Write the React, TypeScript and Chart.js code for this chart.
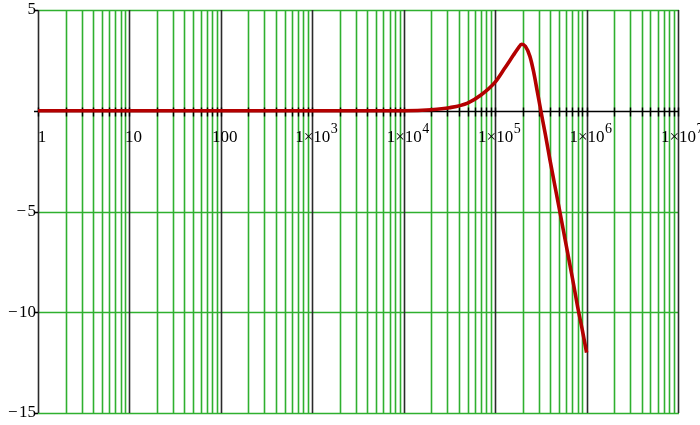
import React, { useEffect, useRef } from "react";
import { Chart, registerables } from "chart.js";

Chart.register(...registerables);

// Frequency (log axis) and gain values
const frequencies = [
  1, 10, 100, 1000, 10000, 20000, 31600, 50000, 70000, 100000, 126000, 158000,
  178000, 195000, 214000, 240000, 263000, 288000, 316000, 355000, 398000,
  500000, 600000, 700000, 800000, 900000, 1000000,
];
const gains = [
  0, 0, 0, 0, 0.0, 0.05, 0.15, 0.38, 0.78, 1.42, 2.08, 2.75, 3.1, 3.3, 3.2,
  2.7, 1.95, 1.0, 0, -1.2, -2.45, -4.8, -6.7, -8.3, -9.75, -10.9, -12.0,
];

// Axis ticks
const xDecades = [1, 10, 100, 1e3, 1e4, 1e5, 1e6, 1e7];
const xMinorMultipliers = [2, 3, 4, 5, 6, 7, 8, 9];
const xTickBase = ["1", "10", "100", "1×10", "1×10", "1×10", "1×10", "1×10"];
const xTickExp = ["", "", "", "3", "4", "5", "6", "7"];
const yTickValues = [5, 0, -5, -10, -15];
const yTickLabels = ["5", "", "\u2212\u200A5", "\u2212\u200A10", "\u2212\u200A15"];

const GREEN = "#2fb02f";
const DARK = "#2a2a2a";
const SERIF = '"Liberation Serif", "DejaVu Serif", serif';

export default function App() {
  const ref = useRef<HTMLCanvasElement | null>(null);

  useEffect(() => {
    if (!ref.current) return;

    const minorValues: number[] = [];
    xDecades.forEach((d, i) => {
      if (i < xDecades.length - 1) xMinorMultipliers.forEach((m) => minorValues.push(m * d));
    });

    const gridPlugin = {
      id: "mathcadGrid",
      beforeDatasetsDraw(chart: any) {
        const { ctx, scales, chartArea } = chart;
        const xs = scales.x;
        const ys = scales.y;
        const top = chartArea.top;
        const bottom = chartArea.bottom;
        const left = chartArea.left;
        const right = chartArea.right;
        const al = (p: number) => Math.round(p) + 0.5;
        const y0 = al(ys.getPixelForValue(0));
        ctx.save();
        ctx.lineWidth = 1.6;
        // minor vertical lines
        ctx.strokeStyle = GREEN;
        ctx.beginPath();
        minorValues.forEach((v) => {
          const px = al(xs.getPixelForValue(v));
          ctx.moveTo(px, top);
          ctx.lineTo(px, bottom);
        });
        // horizontal lines except zero
        yTickValues.forEach((v) => {
          if (v === 0) return;
          const py = al(ys.getPixelForValue(v));
          ctx.moveTo(left, py);
          ctx.lineTo(right + 1, py);
        });
        ctx.stroke();
        // decade vertical lines
        ctx.strokeStyle = DARK;
        ctx.beginPath();
        xDecades.forEach((v) => {
          const px = al(xs.getPixelForValue(v));
          ctx.moveTo(px, top);
          ctx.lineTo(px, bottom);
        });
        ctx.stroke();
        // zero line and tick marks
        ctx.strokeStyle = "#000";
        ctx.lineWidth = 1.4;
        ctx.beginPath();
        ctx.moveTo(left, y0);
        ctx.lineTo(right + 1, y0);
        [...xDecades, ...minorValues].forEach((v) => {
          const px = al(xs.getPixelForValue(v));
          ctx.moveTo(px, y0 - 4);
          ctx.lineTo(px, y0 + 5);
        });
        yTickValues.forEach((v) => {
          const py = al(ys.getPixelForValue(v));
          ctx.moveTo(left - 4, py);
          ctx.lineTo(left, py);
        });
        ctx.stroke();
        ctx.restore();
      },
      afterDraw(chart: any) {
        const { ctx, scales } = chart;
        const xs = scales.x;
        const ys = scales.y;
        const y0 = ys.getPixelForValue(0);
        ctx.save();
        ctx.fillStyle = "#000";
        ctx.textBaseline = "alphabetic";
        ctx.textAlign = "left";
        xDecades.forEach((d, i) => {
          const px = xs.getPixelForValue(d);
          ctx.font = `17px ${SERIF}`;
          const wb = ctx.measureText(xTickBase[i]).width;
          ctx.font = `14px ${SERIF}`;
          const we = xTickExp[i] ? ctx.measureText(xTickExp[i]).width : 0;
          const start = px + 4 - (wb + we) / 2;
          ctx.font = `17px ${SERIF}`;
          ctx.fillText(xTickBase[i], start, y0 + 31);
          if (xTickExp[i]) {
            ctx.font = `14px ${SERIF}`;
            ctx.fillText(xTickExp[i], start + wb + 0.5, y0 + 22);
          }
        });
        ctx.restore();
      },
    };

    const chart = new Chart(ref.current, {
      type: "line",
      data: {
        datasets: [
          {
            data: frequencies.map((f, i) => ({ x: f, y: gains[i] })),
            borderColor: "#b30000",
            borderWidth: 3.6,
            pointRadius: 0,
            cubicInterpolationMode: "monotone",
            fill: false,
          },
        ],
      },
      options: {
        animation: false,
        responsive: false,
        layout: { padding: { left: 0, top: 10, right: 22, bottom: 12 } },
        plugins: { legend: { display: false }, title: { display: false }, tooltip: { enabled: false } },
        scales: {
          x: {
            type: "logarithmic",
            position: { y: 0 } as any,
            min: 1,
            max: 1e7,
            afterFit: (scale: any) => {
              scale.paddingLeft = 0;
              scale.paddingRight = 0;
            },
            ticks: { display: false },
            border: { display: false },
            grid: { display: false, drawTicks: false },
          },
          y: {
            type: "linear",
            position: "left",
            min: -15,
            max: 5,
            afterBuildTicks: (scale: any) => {
              scale.ticks = yTickValues.map((v) => ({ value: v }));
            },
            afterFit: (scale: any) => {
              scale.width = 38;
              scale.paddingTop = 0;
              scale.paddingBottom = 0;
            },
            border: { display: false },
            grid: { display: false, drawTicks: false },
            ticks: {
              padding: 2,
              color: "#000",
              font: { family: SERIF, size: 17 },
              callback: (v: any) => {
                const idx = yTickValues.indexOf(Number(v));
                return idx >= 0 ? yTickLabels[idx] : "";
              },
            },
          },
        },
      },
      plugins: [gridPlugin],
    } as any);

    return () => chart.destroy();
  }, []);

  return (
    <div style={{ position: "absolute", left: 0, top: 0, width: 700, height: 425, background: "#fff" }}>
      <canvas ref={ref} width={700} height={425} style={{ display: "block" }} />
    </div>
  );
}
